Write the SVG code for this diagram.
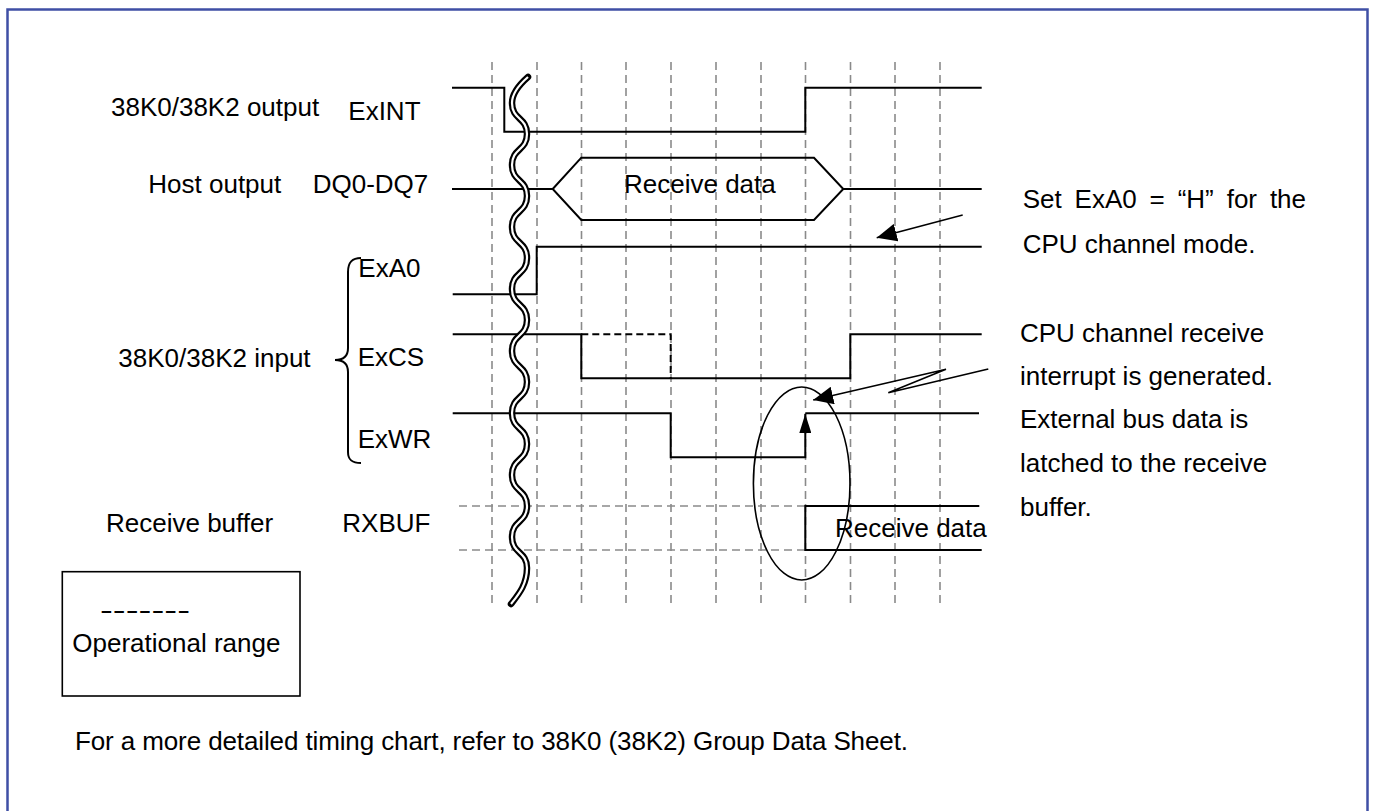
<svg xmlns="http://www.w3.org/2000/svg" width="1374" height="811" viewBox="0 0 1374 811">
<style>
text{font-family:"Liberation Sans",Arial,sans-serif;font-size:26px;fill:#000}
.sig{fill:none;stroke:#000;stroke-width:2}
.grid{fill:none;stroke:#8a8a8a;stroke-width:1.6;stroke-dasharray:8 5}
.thin{fill:none;stroke:#000;stroke-width:1.6}
</style>
<defs>
<marker id="ah" markerUnits="userSpaceOnUse" markerWidth="20" markerHeight="18" viewBox="0 0 20 18" refX="20" refY="9" orient="auto"><path d="M0,0 L20,9 L0,18 z" fill="#000"/></marker>
<marker id="ahs" markerUnits="userSpaceOnUse" markerWidth="19" markerHeight="12" viewBox="0 0 19 12" refX="19" refY="6" orient="auto"><path d="M0,0 L19,6 L0,12 z" fill="#000"/></marker>
<path id="wave" d="M528,77 C520,84 512,94 512,103 C512,120 527,117 527,134 C527,151 512,148 512,165 C512,182 527,179 527,196 C527,213 512,210 512,227 C512,244 527,241 527,258 C527,275 512,272 512,289 C512,306 527,303 527,320 C527,337 512,334 512,351 C512,368 527,365 527,382 C527,399 512,396 512,413 C512,430 527,427 527,444 C527,461 512,458 512,475 C512,492 527,489 527,506 C527,523 512,520 512,537 C512,554 527,551 527,568 C527,585 518,595 511,604" fill="none"/>
</defs>
<rect id="frame" x="7.5" y="9.5" width="1360" height="820" fill="#fff" stroke="#3f4fa5" stroke-width="2.5"/>

<g id="grid">
<path class="grid" d="M492,62V607M537,62V607M581.5,62V607M626,62V607M671,62V607M716,62V607M761,62V607M805.5,62V607M850.5,62V607M895,62V607M940,62V607"/>
<path class="grid" d="M459,506H805M459,550H805"/>
</g>

<g id="labels">
<text x="111" y="115.7">38K0/38K2 output</text>
<text x="348.3" y="120">ExINT</text>
<text x="148.3" y="192.7">Host output</text>
<text x="312.7" y="192.7">DQ0-DQ7</text>
<text x="358.3" y="276.7">ExA0</text>
<text x="118.3" y="366.7">38K0/38K2 input</text>
<text x="357.7" y="365.7">ExCS</text>
<text x="357.7" y="448.3">ExWR</text>
<text x="106" y="532.3">Receive buffer</text>
<text x="342.3" y="532.3">RXBUF</text>
<path id="brace" class="sig" d="M361,258 C352,258 348,262 348,272 V348 C348,356 343,360 335,360 C343,360 348,364 348,372 V452 C348,460 352,463 361,463"/>
</g>

<g id="sig-exint"><path class="sig" d="M452,87.7 H504.3 V131.7 H805.3 V87.7 H981.7"/></g>
<g id="sig-dq">
<path class="sig" d="M452,189 H552.7 M843.3,189 H981.7"/>
<path class="sig" d="M552.7,189 L581.3,157.7 H814 L843.3,189 L814,220 H581.3 Z"/>
<text x="624" y="193.3">Receive data</text>
</g>
<g id="sig-exa0"><path class="sig" d="M452.7,294.3 H536.7 V246.7 H981.7"/></g>
<g id="sig-excs">
<path class="sig" d="M452.7,334.3 H581.3 V378.3 H850.3 V334.3 H981.7"/>
<path class="sig" stroke-dasharray="7 4" d="M581.3,334.3 H670.7 V378.3"/>
</g>
<g id="sig-exwr">
<path class="sig" d="M452.7,413.3 H670.7 V457.3 H805.3 V414" marker-end="url(#ahs)"/>
<path class="sig" d="M805.3,413.3 H979"/>
</g>
<g id="sig-rxbuf">
<path class="sig" d="M979.3,506 H805.3 V550 H981.7"/>
<text x="835" y="536.7">Receive data</text>
</g>

<g id="break">
<use href="#wave" stroke="#000" stroke-width="6.5" stroke-linecap="round"/>
<use href="#wave" stroke="#fff" stroke-width="2.2"/>
</g>

<g id="connectors">
<ellipse class="thin" cx="801.7" cy="483.5" rx="48.3" ry="96.5"/>
<path class="thin" d="M962.7,215 L876.7,237.7" marker-end="url(#ah)"/>
<path class="thin" d="M988.3,369 L888.3,392.7 L946,369.3 L813.2,400" marker-end="url(#ah)"/>
</g>

<g id="note-exa0">
<text y="208.3"><tspan x="1022.7">Set</tspan><tspan x="1074.6">ExA0</tspan><tspan x="1149.6">=</tspan><tspan x="1177.7">“H”</tspan><tspan x="1226.7">for</tspan><tspan x="1269.9">the</tspan></text>
<text x="1022.7" y="253.3">CPU channel mode.</text>
</g>
<g id="note-int">
<text x="1020" y="341.7">CPU channel receive</text>
<text x="1020" y="385">interrupt is generated.</text>
<text x="1020" y="428.3">External bus data is</text>
<text x="1020" y="472">latched to the receive</text>
<text x="1020" y="516">buffer.</text>
</g>

<g id="legend">
<rect x="62.3" y="571.7" width="237.7" height="124.3" fill="none" stroke="#000" stroke-width="1.6"/>
<text x="100" y="618.7" textLength="90" lengthAdjust="spacingAndGlyphs">-------</text>
<text x="72.3" y="651.7">Operational range</text>
</g>

<g id="footnote">
<text x="75" y="750" textLength="833">For a more detailed timing chart, refer to 38K0 (38K2) Group Data Sheet.</text>
</g>
</svg>
